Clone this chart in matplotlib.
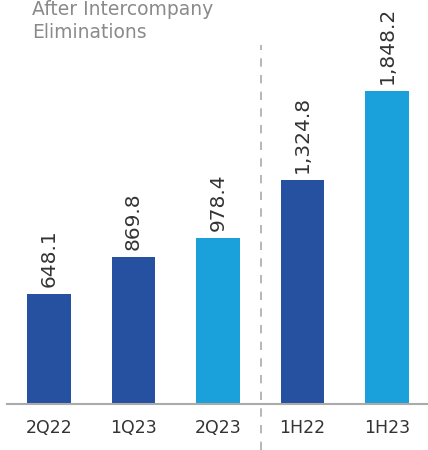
import matplotlib.pyplot as plt
import matplotlib.transforms as mtransforms

categories = ['2Q22', '1Q23', '2Q23', '1H22', '1H23']
values = [648.1, 869.8, 978.4, 1324.8, 1848.2]
labels = ['648.1', '869.8', '978.4', '1,324.8', '1,848.2']
colors = ['#2651a0', '#2651a0', '#1aa0da', '#2651a0', '#1aa0da']

fig = plt.figure(figsize=(4.28, 4.5), dpi=100)
ax = fig.add_axes([7 / 428, 46 / 450, 421 / 428, 404 / 450])

x = range(len(categories))
ax.bar(x, values, width=0.51, color=colors)
for i, v in enumerate(values):
    ax.text(i, v + 40, labels[i], rotation=90, ha='center', va='bottom',
            fontsize=14.5, color='#333333')

ax.set_xlim(-0.497, 4.485)
ax.set_ylim(0, 2385)
ax.set_xticks(list(x))
ax.set_xticklabels(categories, fontsize=12.5, color='#333333')
ax.tick_params(axis='x', length=0, pad=11)
ax.set_yticks([])
for s in ['top', 'right', 'left']:
    ax.spines[s].set_visible(False)
ax.spines['bottom'].set_color('#aaaaaa')
ax.spines['bottom'].set_linewidth(1.5)

# dashed separator between quarters and half-years
trans = mtransforms.blended_transform_factory(ax.transData, fig.transFigure)
ax.plot([2.51, 2.51], [0.0, 1 - 45 / 450], transform=trans, clip_on=False,
        color='#aaaaaa', linestyle=(0, (5, 5)), linewidth=1.2)

fig.text(32 / 428, 1 - 15 / 450, 'After Intercompany', ha='left', va='baseline',
         fontsize=13.5, color='#8a8a8a')
fig.text(32 / 428, 1 - 38 / 450, 'Eliminations', ha='left', va='baseline',
         fontsize=13.5, color='#8a8a8a')

fig.savefig('out.png', dpi=100)
